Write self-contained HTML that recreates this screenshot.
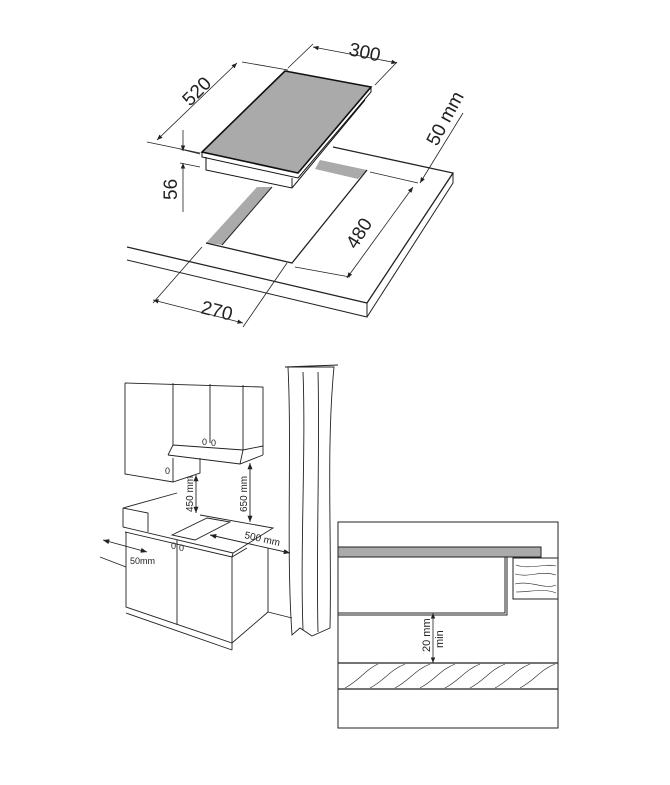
<!DOCTYPE html>
<html><head><style>html,body{margin:0;padding:0;background:#fff}svg{display:block}</style></head><body>
<svg width="670" height="785" viewBox="0 0 670 785" xmlns="http://www.w3.org/2000/svg" font-family="Liberation Sans, sans-serif" fill="none" stroke="#222" stroke-width="1">
<defs><marker id="a" viewBox="0 0 10 10" refX="10" refY="5" markerWidth="7" markerHeight="7" orient="auto-start-reverse"><path d="M0,1 L10,5 L0,9z" fill="#222" stroke="none"/></marker></defs>
<path d="M127,247 L367,303 L453,173 L333,147" stroke-width="1.3"/>
<path d="M127,260 L367,317 L453,183 L453,173"/>
<path d="M367,303 L367,317"/>
<polygon points="257,187 272,187 222,245 206,243" fill="#aaa" stroke="none"/>
<polygon points="320,160 367,170 358,179 315,169" fill="#aaa" stroke="none"/>
<path d="M206,243 L292,263 L367,170" stroke-width="1.3"/>
<path d="M222,245 L272,187"/>
<polygon points="285,71 371,87 298,173 202,152" fill="#aaa" stroke="#111" stroke-width="1.6"/>
<path d="M202,152 L202,157 L298,178 L371,92 L371,87" stroke="#111"/>
<path d="M206,157 L206,170 L292,188 L365,100" stroke="#111"/>
<path d="M292,188 L292,178"/>
<g stroke-width="0.8">
<path d="M313,44 L288,68 M397,62 L375,85"/>
<path d="M313,47 L397,63" marker-start="url(#a)" marker-end="url(#a)"/>
<path d="M242,62 L288,70 M147,142 L200,153"/>
<path d="M237,63 L157,140" marker-start="url(#a)" marker-end="url(#a)"/>
<path d="M183,130 L183,151" marker-end="url(#a)"/><path d="M183,212 L183,163" marker-end="url(#a)"/>
<path d="M180,149 L200,154 M180,163 L200,167"/>
<path d="M463,113 L420,183" marker-end="url(#a)"/>
<path d="M370,172 L418,183 M295,267 L350,277"/>
<path d="M413,187 L347,278" marker-start="url(#a)" marker-end="url(#a)"/>
<path d="M202,247 L153,303 M287,263 L243,327"/>
<path d="M153,300 L243,323" marker-start="url(#a)" marker-end="url(#a)"/>
</g>
<g fill="#222" stroke="none" font-size="19">
<text transform="translate(348,55) rotate(12)">300</text>
<text transform="translate(190,107) rotate(-45)">520</text>
<text transform="translate(177,200) rotate(-90)">56</text>
<text transform="translate(437,147) rotate(-62)">50 mm</text>
<text transform="translate(356,250) rotate(-58)">480</text>
<text transform="translate(200,313) rotate(14)">270</text>
</g>
<g stroke-width="0.9">
<path d="M125,383 L263,387 L263,447"/>
<path d="M125,383 L125,474 L173,482 L200,473 L200,458"/>
<path d="M173,383 L173,445 M173,458 L173,482 M210,384 L210,443 M243,385 L243,450"/>
<path d="M173,445 L243,450 L263,446 M168,455 L240,464 L263,455 M173,445 L168,455 M243,450 L240,464 M263,446 L263,455"/>
<path d="M123,508 L177,493 M123,508 L148,513 L148,532 M123,508 L123,527"/>
<path d="M123,527 L233,553 L273,528 L200,515 M125,532 L232,557 L247,548 M233,553 L232,557"/>
<path d="M172,535 L207,518 L230,522 L195,540 Z"/>
<path d="M126,532 L126,607 L232,643 L268,612 L268,548 M126,613 L232,650 M232,557 L232,650 M177,540 L177,625"/>
<path d="M100,557 L126,567 M268,612 L292,618"/>
<path d="M196,475 L196,513" marker-start="url(#a)" marker-end="url(#a)"/>
<path d="M250,463 L250,522" marker-start="url(#a)" marker-end="url(#a)"/>
<path d="M103,540 L147,552" marker-start="url(#a)" marker-end="url(#a)"/>
<path d="M210,535 L290,553" marker-start="url(#a)" marker-end="url(#a)"/>
<path d="M288,367 C292,450 286,550 292,635 L300,628 L312,636 L330,628 C332,540 326,450 334,367 Z M285,367 L338,365 M303,372 C306,450 300,550 303,630 M318,372 C320,450 316,550 318,632"/>
</g>
<g fill="#222" stroke="none" font-size="9">
<text x="202" y="445">0</text><text x="211" y="446">0</text><text x="165" y="474">0</text>
<text x="171" y="549">0</text><text x="179" y="551">0</text>
<text x="130" y="564">50mm</text>
<text transform="translate(244,538) rotate(13)" font-size="10">500 mm</text>
<text transform="translate(193,512) rotate(-90)" font-size="10">450 mm</text>
<text transform="translate(247,512) rotate(-90)" font-size="10">650 mm</text>
</g>
<rect x="338" y="522" width="220" height="206" stroke-width="1"/>
<rect x="338" y="547" width="203" height="10" fill="#aaa" stroke="#222"/>
<path d="M338,557 L505,557 L505,613 L338,613 M507,557 L507,615 L338,615"/>
<rect x="513" y="558" width="45" height="41"/>
<g stroke-width="0.6"><path d="M516,565 C530,570 545,563 556,566 M515,574 C530,578 540,570 556,575 M515,584 C530,580 545,590 556,585 M516,592 C530,592 545,588 556,593"/></g>
<path d="M338,663 L558,663 M338,689 L558,689" stroke-width="1.2"/>
<g stroke-width="0.6"><path d="M345,688 C360,680 365,670 378,664 M370,688 C385,680 390,670 405,664 M395,688 C410,680 415,670 430,664 M420,688 C435,680 440,670 455,664 M445,688 C460,680 465,670 480,664 M470,688 C485,680 490,670 505,664 M495,688 C510,680 515,670 530,664 M520,688 C535,680 540,670 555,664"/></g>
<path d="M433,613 L433,663" stroke-width="0.8" marker-start="url(#a)" marker-end="url(#a)"/>
<g fill="#222" stroke="none" font-size="11">
<text transform="translate(430,652) rotate(-90)">20 mm</text>
<text transform="translate(443,648) rotate(-90)">min</text>
</g>
</svg>
</body></html>
